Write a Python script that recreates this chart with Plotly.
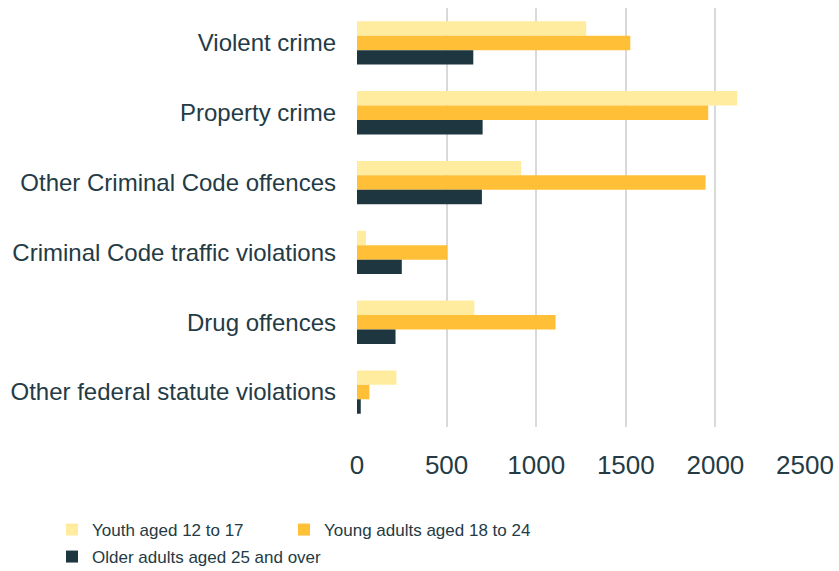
import plotly.graph_objects as go

categories = ["Violent crime", "Property crime", "Other Criminal Code offences",
              "Criminal Code traffic violations", "Drug offences",
              "Other federal statute violations"]
youth = [1279, 2122, 916, 50, 655, 220]
young_adults = [1525, 1960, 1945, 504, 1108, 69]
older_adults = [649, 701, 697, 250, 215, 21]
series_names = ["Youth aged 12 to 17", "Young adults aged 18 to 24",
                "Older adults aged 25 and over"]
x_ticks = [0, 500, 1000, 1500, 2000, 2500]

colors = ["#FFEC9E", "#FFBF36", "#1E3640"]
text_color = "#243B45"
font_family = "Liberation Sans, Arial, sans-serif"

fig = go.Figure()
for name, vals, col, lg in zip(series_names, [youth, young_adults, older_adults],
                                colors, ["legend", "legend2", "legend3"]):
    fig.add_trace(go.Bar(
        y=categories, x=vals, name=name, orientation="h",
        marker=dict(color=col, line=dict(width=0)),
        legend=lg, showlegend=True,
    ))

legend_common = dict(
    orientation="h", xref="container", yref="container",
    xanchor="left", yanchor="middle",
    font=dict(family=font_family, size=17, color=text_color),
    itemclick=False, itemdoubleclick=False,
    bgcolor="rgba(0,0,0,0)",
)

fig.update_layout(
    width=839, height=571, showlegend=True,
    margin=dict(l=357, r=34, t=7.5, b=143.5, autoexpand=False),
    paper_bgcolor="white", plot_bgcolor="white",
    barmode="group", bargap=0.38, bargroupgap=0,
    font=dict(family=font_family, color=text_color),
    xaxis=dict(
        range=[0, 2500], tickvals=x_ticks, ticktext=[str(v) for v in x_ticks],
        showgrid=True, gridcolor="#D9D9D9", gridwidth=1.5,
        zeroline=False, showline=False, automargin=False,
        tickfont=dict(size=26, color=text_color),
        ticklabelstandoff=20,
    ),
    yaxis=dict(
        autorange="reversed", showgrid=False, zeroline=False, showline=False,
        automargin=False,
        tickfont=dict(size=24, color=text_color),
        ticklabelstandoff=20,
    ),
    legend=dict(legend_common, x=52 / 839, y=1 - 530 / 571),
    legend2=dict(legend_common, x=284 / 839, y=1 - 530 / 571),
    legend3=dict(legend_common, x=52 / 839, y=1 - 557 / 571),
)

fig.write_html("out.html", config={"displayModeBar": False},
               post_script="document.body.style.margin='0';document.body.style.overflow='hidden';")
